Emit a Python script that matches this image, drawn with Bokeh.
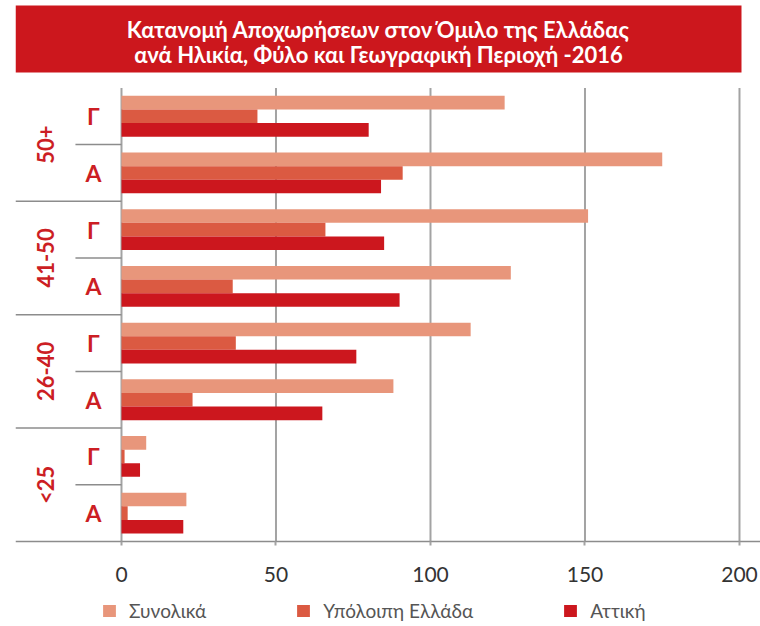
import math
from bokeh.plotting import figure
from bokeh.models import Range1d, Legend, LegendItem, FixedTicker
from bokeh.core.properties import value
from bokeh.embed import file_html
from bokeh.resources import INLINE

# ---------------- data ----------------
age_groups = ["50+", "41-50", "26-40", "<25"]
genders = ["Γ", "Α"]
series_names = ["Συνολικά", "Υπόλοιπη Ελλάδα", "Αττική"]
# rows top to bottom: (50+,Γ),(50+,Α),(41-50,Γ),(41-50,Α),(26-40,Γ),(26-40,Α),(<25,Γ),(<25,Α)
synolika = [124, 175, 151, 126, 113, 88, 8, 21]
ypoloipi = [44, 91, 66, 36, 37, 23, 1, 2]
attiki = [80, 84, 85, 90, 76, 65, 6, 20]
x_ticks = [0, 50, 100, 150, 200]
title_lines = ["Κατανομή Αποχωρήσεων στον Όμιλο της Ελλάδας",
               "ανά Ηλικία, Φύλο και Γεωγραφική Περιοχή -2016"]

# ---------------- style / layout ----------------
colors = ["#E8967B", "#DB5A42", "#CC171E"]
RED = "#CC1E24"
GRID = "#a3a3a3"
SEP = "#8c8c8c"
FONT = "Lato"

X_LEFT, X_RIGHT = -34.3, 206.8
TITLE_RIGHT = 200.65
n_rows = len(age_groups) * len(genders)
Y_BOTTOM, Y_TOP = -1.499, 9.541
TITLE_BOTTOM, TITLE_TOP = 8.27, 9.453
BAR_H = 0.24
GROUP_LABEL_X = -24.6
SUB_LABEL_X = -9.1
SUB_SEP_X0 = -14.9

p = figure(width=760, height=626, output_backend="svg", toolbar_location=None,
           x_range=Range1d(X_LEFT, X_RIGHT), y_range=Range1d(Y_BOTTOM, Y_TOP),
           min_border_left=15, min_border_right=0, min_border_top=0,
           min_border_bottom=0)
p.outline_line_color = None
p.xgrid.grid_line_color = None
p.ygrid.grid_line_color = None
p.yaxis.visible = False
p.background_fill_color = "white"
p.border_fill_color = "white"

# title box
p.quad(left=[X_LEFT], right=[TITLE_RIGHT], bottom=[TITLE_BOTTOM], top=[TITLE_TOP],
       fill_color="#CC171D", line_color=None)
title_ys = [9.03, 8.59]
p.text(x=[(X_LEFT + TITLE_RIGHT) / 2] * 2, y=title_ys, text=title_lines,
       text_align="center", text_baseline="middle", text_color="white",
       text_font=value(FONT), text_font_style="bold", text_font_size="22px")

# vertical gridlines
p.segment(x0=x_ticks, y0=[0] * len(x_ticks), x1=x_ticks, y1=[n_rows] * len(x_ticks),
          line_color=GRID, line_width=2)

# separators on the left
grp_y = [n_rows - 2 * k for k in range(1, len(age_groups))]
p.segment(x0=[X_LEFT] * len(grp_y), y0=grp_y, x1=[0] * len(grp_y), y1=grp_y,
          line_color=SEP, line_width=1.5)
sub_y = [n_rows - (2 * k + 1) for k in range(len(age_groups))]
p.segment(x0=[SUB_SEP_X0] * len(sub_y), y0=sub_y, x1=[0] * len(sub_y), y1=sub_y,
          line_color=SEP, line_width=1.5)

# bars
centers = [n_rows - i - 0.5 for i in range(n_rows)]
renderers = []
for j, (vals, col) in enumerate(zip([synolika, ypoloipi, attiki], colors)):
    off = (1 - j) * BAR_H
    r = p.hbar(y=[c + off for c in centers], right=vals, left=0, height=BAR_H,
               fill_color=col, line_color=None)
    renderers.append(r)

# labels
sub_labels = [g for _ in age_groups for g in genders]
p.text(x=[SUB_LABEL_X] * n_rows, y=centers, text=sub_labels,
       text_align="center", text_baseline="middle", text_color=RED,
       text_font=value(FONT), text_font_style="bold", text_font_size="23px")
grp_centers = [n_rows - 2 * k - 1 for k in range(len(age_groups))]
p.text(x=[GROUP_LABEL_X] * len(age_groups), y=grp_centers, text=age_groups,
       angle=math.pi / 2, text_align="center", text_baseline="middle",
       text_color=RED, text_font=value(FONT), text_font_style="bold",
       text_font_size="22px")

# x axis (drawn at y = 0 inside the frame)
ax = p.xaxis[0]
ax.fixed_location = 0
ax.ticker = FixedTicker(ticks=x_ticks)
ax.axis_line_color = SEP
ax.axis_line_width = 1.5
ax.major_tick_line_color = GRID
ax.major_tick_line_width = 2
ax.major_tick_in = 0
ax.major_tick_out = 4
ax.minor_tick_line_color = None
ax.major_label_standoff = 21
ax.major_label_text_font = FONT
ax.major_label_text_font_size = "21px"
ax.major_label_text_color = "#333333"

# legend
legend = Legend(items=[LegendItem(label=nm, renderers=[r])
                       for nm, r in zip(series_names, renderers)],
                orientation="horizontal", location=(86, 4), spacing=89,
                label_standoff=12, glyph_width=16, glyph_height=15, padding=0,
                margin=0, border_line_color=None, background_fill_alpha=0,
                label_text_font=FONT, label_text_font_size="19px",
                label_text_color="#555555")
p.add_layout(legend)

open("out.html", "w").write(file_html(p, INLINE))
